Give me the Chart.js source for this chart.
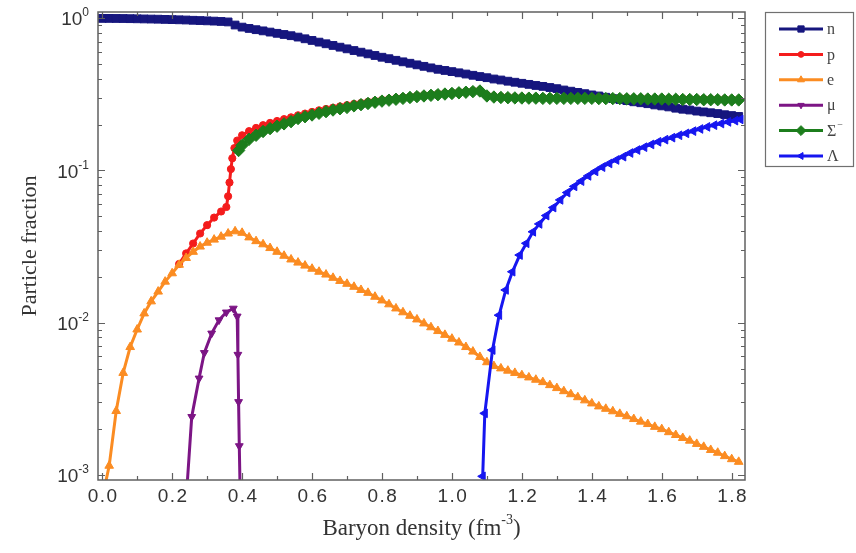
<!DOCTYPE html>
<html>
<head>
<meta charset="utf-8">
<script src="https://cdn.jsdelivr.net/npm/chart.js@4.4.0/dist/chart.umd.min.js"></script>
<style>
  html, body { margin: 0; padding: 0; background: #fff; }
  #wrap { width: 856px; height: 553px; }
</style>
</head>
<body>
<div id="wrap"><canvas id="myChart" width="856" height="553"></canvas></div>
<script>
// density grid (fm^-3) shared by n and e
const grid = [0.00,0.02,0.04,0.06,0.08,0.10,0.12,0.14,0.16,0.18,0.20,0.22,0.24,0.26,0.28,0.30,0.32,0.34,0.36,0.38,
  0.40,0.42,0.44,0.46,0.48,0.50,0.52,0.54,0.56,0.58,0.60,0.62,0.64,0.66,0.68,0.70,0.72,0.74,0.76,0.78,
  0.80,0.82,0.84,0.86,0.88,0.90,0.92,0.94,0.96,0.98,1.00,1.02,1.04,1.06,1.08,1.10,1.12,1.14,1.16,1.18,
  1.20,1.22,1.24,1.26,1.28,1.30,1.32,1.34,1.36,1.38,1.40,1.42,1.44,1.46,1.48,1.50,1.52,1.54,1.56,1.58,
  1.60,1.62,1.64,1.66,1.68,1.70,1.72,1.74,1.76,1.78,1.80,1.82];

const nFrac = [0.995,0.995,0.994,0.993,0.991,0.989,0.987,0.985,0.983,0.980,0.977,0.974,0.971,0.967,0.963,0.959,0.955,0.950,0.943,0.900,
  0.872,0.855,0.839,0.824,0.809,0.794,0.780,0.766,0.750,0.731,0.713,0.695,0.678,0.661,0.644,0.628,0.612,0.597,0.582,0.568,
  0.553,0.541,0.528,0.516,0.505,0.493,0.482,0.471,0.461,0.453,0.445,0.437,0.429,0.421,0.413,0.406,0.398,0.392,0.385,0.379,
  0.373,0.367,0.361,0.356,0.350,0.344,0.337,0.331,0.325,0.319,0.313,0.308,0.302,0.296,0.292,0.287,0.282,0.278,0.274,0.269,
  0.265,0.261,0.256,0.252,0.249,0.245,0.242,0.239,0.236,0.232,0.229,0.226];

const eFrac = [0.0007,0.00115,0.00263,0.00468,0.00692,0.00902,0.0115,0.0138,0.0160,0.0186,0.0211,0.0240,0.0266,0.0292,0.0316,0.0335,0.0351,0.0367,0.0385,0.0398,
  0.0389,0.0363,0.0343,0.0327,0.0309,0.0292,0.0275,0.0260,0.0248,0.0237,0.0226,0.0216,0.0207,0.0197,0.0188,0.0180,0.0172,0.0164,0.0157,0.0148,
  0.0140,0.0132,0.0124,0.0117,0.0111,0.0105,0.00989,0.00933,0.00881,0.00832,0.00785,0.00741,0.00692,0.00646,0.00596,0.00550,0.00519,0.00501,0.00484,0.00468,
  0.00452,0.00437,0.00422,0.00407,0.00389,0.00372,0.00355,0.00339,0.00324,0.00309,0.00295,0.00282,0.00272,0.00262,0.00252,0.00243,0.00233,0.00224,0.00216,0.00207,
  0.00200,0.00191,0.00183,0.00175,0.00168,0.00160,0.00153,0.00146,0.00140,0.00133,0.00127,0.00122];

const pX = [0.22,0.24,0.26,0.28,0.30,0.32,0.34,
  0.355,0.360,0.364,0.368,0.372,0.378,0.386,
  0.40,0.42,0.44,0.46,0.48,0.50,0.52,0.54,0.56,0.58,0.60,0.62,0.64,0.66,0.68,0.70,0.72,0.74,0.76,0.78,
  0.80,0.82,0.84,0.86,0.88,0.90,0.92,0.94,0.96,0.98,1.00,1.02,1.04,1.06,1.08,1.10,1.12,1.14,1.16,1.18,
  1.20,1.22,1.24,1.26,1.28,1.30,1.32,1.34,1.36,1.38,1.40,1.42,1.44,1.46,1.48,1.50,1.52,1.54,1.56,1.58,
  1.60,1.62,1.64,1.66,1.68,1.70,1.72,1.74,1.76,1.78,1.80,1.82];
const pFrac = [0.0243,0.0285,0.0331,0.0385,0.0437,0.0490,0.0537,
  0.0575,0.0676,0.0832,0.102,0.120,0.140,0.157,
  0.170,0.181,0.190,0.198,0.205,0.211,0.217,0.223,0.230,0.236,0.242,0.248,0.253,0.258,0.263,0.268,0.273,0.277,0.282,0.286,
  0.290,0.294,0.298,0.302,0.305,0.309,0.312,0.315,0.318,0.321,0.324,0.327,0.330,0.333,0.336,0.312,0.307,0.305,0.304,0.303,
  0.302,0.302,0.301,0.301,0.301,0.300,0.300,0.300,0.300,0.300,0.300,0.300,0.299,0.299,0.299,0.299,0.298,0.298,0.298,0.297,
  0.297,0.297,0.296,0.296,0.295,0.295,0.295,0.294,0.294,0.294,0.293,0.293];

const muX = [0.236,0.256,0.277,0.292,0.313,0.334,0.355,0.375,0.386,0.388,0.390,0.392,0.396];
const muFrac = [0.0005,0.00241,0.00431,0.00634,0.00851,0.0104,0.0117,0.0124,0.0110,0.00617,0.00302,0.00155,0.0005];

const sigmaX = [0.39,0.40,0.42,0.44,0.46,0.48,0.50,0.52,0.54,0.56,0.58,0.60,0.62,0.64,0.66,0.68,0.70,0.72,0.74,0.76,0.78,
  0.80,0.82,0.84,0.86,0.88,0.90,0.92,0.94,0.96,0.98,1.00,1.02,1.04,1.06,1.08,1.10,1.12,1.14,1.16,1.18,
  1.20,1.22,1.24,1.26,1.28,1.30,1.32,1.34,1.36,1.38,1.40,1.42,1.44,1.46,1.48,1.50,1.52,1.54,1.56,1.58,
  1.60,1.62,1.64,1.66,1.68,1.70,1.72,1.74,1.76,1.78,1.80,1.82];
const sigmaFrac = [0.135,0.146,0.160,0.170,0.180,0.188,0.195,0.202,0.209,0.219,0.225,0.231,0.237,0.243,0.249,0.254,0.259,0.265,0.270,0.275,0.280,
  0.285,0.289,0.293,0.297,0.301,0.305,0.308,0.311,0.314,0.317,0.320,0.323,0.326,0.329,0.332,0.308,0.303,0.301,0.300,0.299,
  0.2985,0.298,0.298,0.297,0.297,0.297,0.297,0.297,0.297,0.297,0.297,0.296,0.296,0.296,0.296,0.295,0.295,0.295,0.294,0.294,
  0.294,0.293,0.293,0.292,0.292,0.292,0.291,0.291,0.291,0.290,0.290,0.290];

const lambdaX = [1.088,1.094,1.116,1.135,1.154,1.173,1.194,1.213,1.232,1.25,1.27,1.29,1.31,1.33,1.35,1.37,1.39,1.41,1.43,1.45,
  1.47,1.49,1.51,1.53,1.55,1.57,1.59,1.61,1.63,1.65,1.67,1.69,1.71,1.73,1.75,1.77,1.79,1.81,1.825];
const lambdaFrac = [0.00098,0.00254,0.00661,0.0112,0.0164,0.0216,0.0278,0.0332,0.0395,0.0445,0.0505,0.0570,0.0640,0.0715,0.0785,0.0850,0.0920,0.0985,0.105,0.111,
  0.117,0.123,0.130,0.136,0.142,0.148,0.154,0.159,0.164,0.170,0.175,0.181,0.187,0.193,0.198,0.203,0.208,0.212,0.216];

const xTicks = [0.0,0.2,0.4,0.6,0.8,1.0,1.2,1.4,1.6,1.8];
const xTickLabels = ['0.0','0.2','0.4','0.6','0.8','1.0','1.2','1.4','1.6','1.8'];
const yDecades = [1, 0.1, 0.01, 0.001];
const yTickExp = ['0', '-1', '-2', '-3'];

const seriesNames = ['n', 'p', 'e', 'μ', 'Σ', 'Λ'];
const seriesColors = ['#16167e', '#f41c1c', '#fb8c22', '#7c1585', '#1c7d1c', '#1616f0'];
const seriesMarkers = [
  { style: 'rect', rot: 0, r: 5.5 },
  { style: 'circle', rot: 0, r: 3.6 },
  { style: 'triangle', rot: 0, r: 5 },
  { style: 'triangle', rot: 180, r: 4.5 },
  { style: 'rectRot', rot: 0, r: 6.2 },
  { style: 'triangle', rot: 270, r: 5 }
];

function toPoints(xs, ys) {
  return xs.map((x, i) => ({ x: x, y: ys[i] }));
}

const seriesData = [
  toPoints(grid, nFrac),
  toPoints(pX, pFrac),
  toPoints(grid, eFrac),
  toPoints(muX, muFrac),
  toPoints(sigmaX, sigmaFrac),
  toPoints(lambdaX, lambdaFrac)
];

const datasets = seriesData.map((pts, i) => ({
  label: seriesNames[i],
  data: pts,
  borderColor: seriesColors[i],
  backgroundColor: seriesColors[i],
  pointBackgroundColor: seriesColors[i],
  pointBorderColor: seriesColors[i],
  pointBorderWidth: 1,
  pointStyle: seriesMarkers[i].style,
  pointRotation: seriesMarkers[i].rot,
  pointRadius: seriesMarkers[i].r,
  borderWidth: 3,
  tension: 0,
  clip: 0,
  order: seriesNames.length - i
}));

const sansFont = '"Liberation Sans", Arial, sans-serif';
const serifFont = '"Liberation Serif", "Times New Roman", serif';

function drawMarker(ctx, m, x, y, r) {
  const rad = m.rot * Math.PI / 180;
  ctx.beginPath();
  if (m.style === 'circle') {
    ctx.arc(x, y, r, 0, Math.PI * 2);
  } else if (m.style === 'rect') {
    const s = r * Math.SQRT1_2;
    ctx.rect(x - s, y - s, 2 * s, 2 * s);
  } else if (m.style === 'rectRot') {
    ctx.moveTo(x, y - r);
    ctx.lineTo(x + r, y);
    ctx.lineTo(x, y + r);
    ctx.lineTo(x - r, y);
  } else {
    for (let k = 0; k < 3; k++) {
      const a = rad + k * 2 * Math.PI / 3;
      const px = x + Math.sin(a) * r;
      const py = y - Math.cos(a) * r;
      k === 0 ? ctx.moveTo(px, py) : ctx.lineTo(px, py);
    }
  }
  ctx.closePath();
  ctx.fill();
  ctx.stroke();
}

const framePlugin = {
  id: 'framePlugin',
  afterDraw(chart) {
    const { ctx, chartArea: a } = chart;
    const xs = chart.scales.x;
    const ys = chart.scales.y;
    ctx.save();

    // frame
    ctx.strokeStyle = '#606060';
    ctx.lineWidth = 1.5;
    ctx.strokeRect(a.left, a.top, a.right - a.left, a.bottom - a.top);

    // x ticks (inward, bottom and top)
    ctx.lineWidth = 1.2;
    for (let v = 0; v <= 1.8001; v += 0.1) {
      const px = Math.round(xs.getPixelForValue(v)) + 0.5;
      const major = Math.round(v * 10) % 2 === 0;
      const len = major ? 7 : 4;
      ctx.beginPath();
      ctx.moveTo(px, a.bottom); ctx.lineTo(px, a.bottom - len);
      ctx.moveTo(px, a.top); ctx.lineTo(px, a.top + len);
      ctx.stroke();
    }

    // y ticks (inward, left and right)
    yDecades.forEach((d) => {
      for (let m = 1; m <= 9; m++) {
        const v = d * m;
        if (v < ys.min || v > ys.max) continue;
        const py = Math.round(ys.getPixelForValue(v)) + 0.5;
        const len = m === 1 ? 7 : 4;
        ctx.beginPath();
        ctx.moveTo(a.left, py); ctx.lineTo(a.left + len, py);
        ctx.moveTo(a.right, py); ctx.lineTo(a.right - len, py);
        ctx.stroke();
      }
    });

    // x tick labels
    ctx.fillStyle = '#333';
    ctx.font = '19px ' + sansFont;
    ctx.textAlign = 'center';
    ctx.textBaseline = 'middle';
    if ('letterSpacing' in ctx) ctx.letterSpacing = '1.5px';
    xTicks.forEach((v, i) => {
      ctx.fillText(xTickLabels[i], xs.getPixelForValue(v) + 1, a.bottom + 17);
    });
    if ('letterSpacing' in ctx) ctx.letterSpacing = '0px';

    // y tick labels: 10 with superscript exponent
    yDecades.forEach((d, i) => {
      const py = ys.getPixelForValue(d);
      const rightX = a.left - 9;
      ctx.font = '12px ' + sansFont;
      ctx.textAlign = 'right';
      const expW = ctx.measureText(yTickExp[i]).width;
      ctx.fillText(yTickExp[i], rightX, py - 5);
      ctx.font = '19px ' + sansFont;
      ctx.fillText('10', rightX - expW, py + 2);
    });

    // x axis title
    ctx.font = '23px ' + serifFont;
    ctx.textAlign = 'left';
    ctx.textBaseline = 'alphabetic';
    const part1 = 'Baryon density (fm';
    const sup = '-3';
    const part3 = ')';
    const w1 = ctx.measureText(part1).width;
    const w3 = ctx.measureText(part3).width;
    ctx.font = '14px ' + serifFont;
    const w2 = ctx.measureText(sup).width;
    const total = w1 + w2 + w3;
    const cx = (a.left + a.right) / 2;
    let tx = cx - total / 2;
    const baseY = 535;
    ctx.font = '23px ' + serifFont;
    ctx.fillText(part1, tx, baseY);
    ctx.font = '14px ' + serifFont;
    ctx.fillText(sup, tx + w1, baseY - 11);
    ctx.font = '23px ' + serifFont;
    ctx.fillText(part3, tx + w1 + w2, baseY);

    // y axis title
    ctx.font = '22px ' + serifFont;
    ctx.save();
    ctx.translate(30, (a.top + a.bottom) / 2);
    ctx.rotate(-Math.PI / 2);
    ctx.textAlign = 'center';
    ctx.textBaseline = 'middle';
    ctx.fillText('Particle fraction', 0, 0);
    ctx.restore();

    // legend box
    ctx.strokeStyle = '#707070';
    ctx.lineWidth = 1.2;
    ctx.strokeRect(765.5, 12.5, 88, 154);
    seriesNames.forEach((name, i) => {
      const ly = 29 + i * 25.4;
      ctx.strokeStyle = seriesColors[i];
      ctx.fillStyle = seriesColors[i];
      ctx.lineWidth = 3;
      ctx.beginPath();
      ctx.moveTo(779, ly); ctx.lineTo(823, ly);
      ctx.stroke();
      ctx.lineWidth = 1;
      drawMarker(ctx, seriesMarkers[i], 801, ly, seriesMarkers[i].r * 0.8);
      ctx.fillStyle = '#444';
      ctx.font = '16px ' + serifFont;
      ctx.textAlign = 'left';
      ctx.textBaseline = 'middle';
      ctx.fillText(name, 827, ly + 1);
      if (name === 'Σ') {
        const nw = ctx.measureText(name).width;
        ctx.font = '10px ' + serifFont;
        ctx.fillText('−', 827 + nw + 1, ly - 5);
      }
    });

    ctx.restore();
  }
};

const config = {
  type: 'line',
  data: { datasets: datasets },
  options: {
    responsive: false,
    animation: false,
    devicePixelRatio: 1,
    layout: { padding: { left: 98, right: 111, top: 12, bottom: 73 } },
    plugins: { legend: { display: false }, tooltip: { enabled: false } },
    scales: {
      x: { type: 'linear', display: false, min: -0.012, max: 1.838 },
      y: { type: 'logarithmic', display: false, min: 0.000927, max: 1.096 }
    }
  },
  plugins: [framePlugin]
};

const myChart = new Chart(document.querySelector('#myChart'), config);
</script>
</body>
</html>
